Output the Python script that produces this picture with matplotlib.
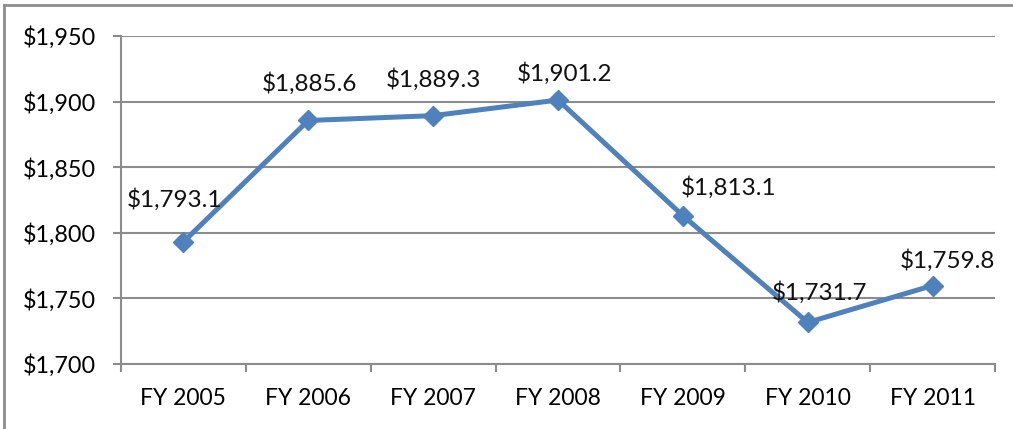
import matplotlib.pyplot as plt
from matplotlib.lines import Line2D
from matplotlib.ticker import FixedLocator

years = ['FY 2005', 'FY 2006', 'FY 2007', 'FY 2008', 'FY 2009', 'FY 2010', 'FY 2011']
values = [1793.1, 1885.6, 1889.3, 1901.2, 1813.1, 1731.7, 1759.8]
yticks = [1700, 1750, 1800, 1850, 1900, 1950]

# label placement (pixels from each point), as in the source chart
label_dx = [-9, 1, 0, 7, 46, 12, 15]
label_dy = [42, 37, 36, 27, 28, 30, 25]

plt.rcParams['font.family'] = ['Lato', 'DejaVu Sans']
grey = '#8c8c8c'

fig = plt.figure(figsize=(10.13, 4.29), dpi=100)
ax = fig.add_axes([121 / 1013, 65 / 429, 874 / 1013, 328 / 429])

x = list(range(len(years)))
ax.plot(x, values, color='#4f81bd', lw=3.6, marker='D', ms=10, zorder=3, clip_on=False)
for xi, v, dx, dy in zip(x, values, label_dx, label_dy):
    ax.annotate(f'${v:,.1f}', (xi, v), xytext=(dx, dy), textcoords='offset pixels',
                ha='center', va='center', fontsize=17.5, color='#111111', zorder=4)

ax.set_xlim(-0.5, len(years) - 0.5)
ax.set_ylim(1700, 1950)
ax.set_yticks(yticks)
ax.set_yticklabels([f'${t:,}' for t in yticks])
ax.set_xticks(x)
ax.set_xticklabels(years)
ax.xaxis.set_minor_locator(FixedLocator([i - 0.5 for i in range(len(years) + 1)]))
ax.tick_params(axis='x', which='major', length=0, pad=17, labelsize=16.5)
ax.tick_params(axis='x', which='minor', length=6, width=1.5, color=grey)
ax.tick_params(axis='y', length=6, width=1.5, color=grey, pad=12, labelsize=16.8)
ax.grid(axis='y', color=grey, lw=1.5)
ax.set_axisbelow(True)
for s in ['top', 'right']:
    ax.spines[s].set_visible(False)
for s in ['left', 'bottom']:
    ax.spines[s].set_color(grey)
    ax.spines[s].set_linewidth(1.5)

# outer chart border (only top and left visible)
fig.add_artist(Line2D([4 / 1013, 4 / 1013], [0, 1 - 5 / 429], color=grey, lw=2, transform=fig.transFigure))
fig.add_artist(Line2D([4 / 1013, 1], [1 - 5 / 429, 1 - 5 / 429], color=grey, lw=2, transform=fig.transFigure))

fig.savefig('out.png', dpi=100)
